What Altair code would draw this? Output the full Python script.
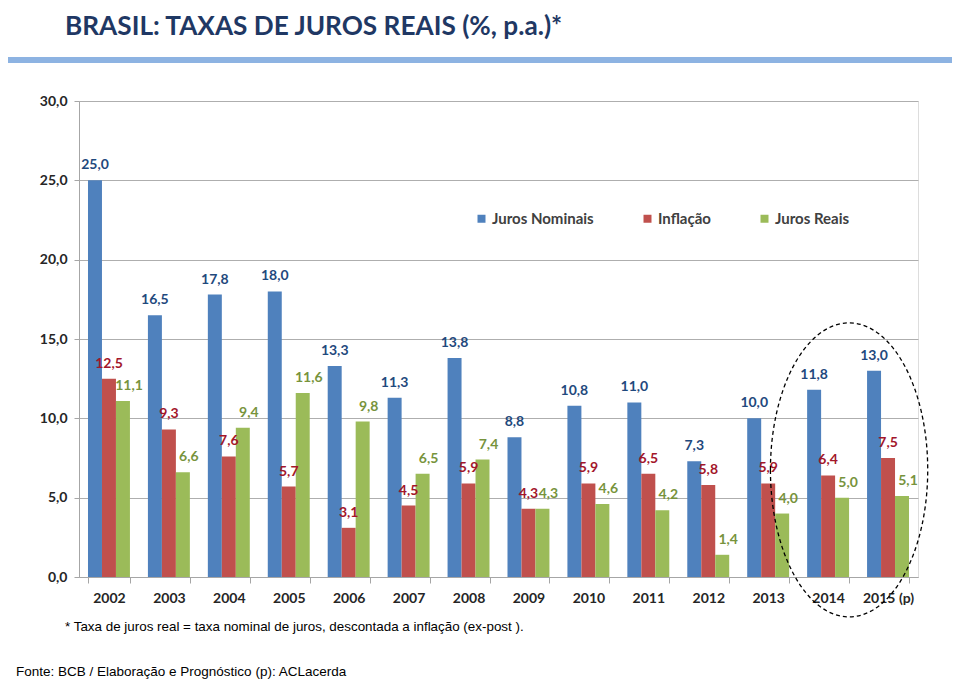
import altair as alt
import pandas as pd

anos = ["2002", "2003", "2004", "2005", "2006", "2007", "2008", "2009",
        "2010", "2011", "2012", "2013", "2014", "2015 (p)"]
juros_nominais = [25.0, 16.5, 17.8, 18.0, 13.3, 11.3, 13.8, 8.8, 10.8, 11.0, 7.3, 10.0, 11.8, 13.0]
inflacao = [12.5, 9.3, 7.6, 5.7, 3.1, 4.5, 5.9, 4.3, 5.9, 6.5, 5.8, 5.9, 6.4, 7.5]
juros_reais = [11.1, 6.6, 9.4, 11.6, 9.8, 6.5, 7.4, 4.3, 4.6, 4.2, 1.4, 4.0, 5.0, 5.1]
series = ["Juros Nominais", "Inflação", "Juros Reais"]
cores = ["#4F81BD", "#C0504D", "#9BBB59"]
cores_rotulos = ["#1F497D", "#A3162A", "#77933C"]

titulo = "BRASIL: TAXAS DE JUROS REAIS (%, p.a.)*"
nota = "* Taxa de juros real = taxa nominal de juros, descontada a inflação (ex-post )."
fonte = "Fonte: BCB / Elaboração e Prognóstico (p): ACLacerda"

rows = []
for s, vals in zip(series, [juros_nominais, inflacao, juros_reais]):
    for a, v in zip(anos, vals):
        rows.append({"ano": a, "serie": s, "valor": v})
df = pd.DataFrame(rows)

FONT = "Lato"
W, H = 839, 476

x_enc = alt.X("ano:N", sort=anos, title=None,
              scale=alt.Scale(paddingInner=0.3, paddingOuter=0.15),
              axis=alt.Axis(labelFont=FONT, labelFontSize=14, labelFontWeight="bold",
                            labelColor="#262626", labelAngle=0, labelPadding=8,
                            domainColor="#A6A6A6", tickColor="#A6A6A6", tickSize=6,
                            tickBand="extent", grid=False))
y_enc = alt.Y("valor:Q", title=None,
              scale=alt.Scale(domain=[0, 30], nice=False),
              axis=alt.Axis(values=[0, 5, 10, 15, 20, 25, 30],
                            labelExpr="replace(format(datum.value, '.1f'), '.', ',')",
                            labelFont=FONT, labelFontSize=14, labelFontWeight="bold",
                            labelColor="#262626", labelPadding=7,
                            domainColor="#A6A6A6", tickColor="#A6A6A6", tickSize=5,
                            grid=True, gridColor="#AEAEAE", gridWidth=1))

base = alt.Chart(df)

bars = base.mark_bar().encode(
    x=x_enc,
    y=y_enc,
    xOffset=alt.XOffset("serie:N", sort=series, scale=alt.Scale(paddingInner=0, paddingOuter=0)),
    color=alt.Color("serie:N", sort=series, scale=alt.Scale(domain=series, range=cores),
                    legend=alt.Legend(title=None, orient="none", legendX=395, legendY=110,
                                      direction="horizontal", symbolType="square",
                                      symbolSize=64, symbolStrokeWidth=0,
                                      labelFont=FONT, labelFontSize=15, labelFontWeight="bold",
                                      labelColor="#404040", columnPadding=46, labelOffset=3)),
)

label_layers = []
dxs = [0, 0, 6]
for s, c, dx in zip(series, cores_rotulos, dxs):
    t = base.transform_filter(alt.datum.serie == s).transform_calculate(
        rotulo="replace(format(datum.valor, '.1f'), '.', ',')"
    ).mark_text(font=FONT, fontSize=14, fontWeight="bold", color=c,
                baseline="middle", dy=-15, dx=dx).encode(
        x=alt.X("ano:N", sort=anos),
        y=alt.Y("valor:Q"),
        xOffset=alt.XOffset("serie:N", sort=series),
        text="rotulo:N",
    )
    label_layers.append(t)

anot = pd.DataFrame({"ano": ["2014"], "valor": [6.75]})
elipse = alt.Chart(anot).mark_point(
    shape="M -0.535 0 A 0.535 1 0 1 1 0.535 0 A 0.535 1 0 1 1 -0.535 0 Z",
    size=86436, filled=False, stroke="#000000", strokeWidth=1.3,
    strokeDash=[4, 3], opacity=1, dx=12,
).encode(
    x=alt.X("ano:N", sort=anos, bandPosition=1),
    y=alt.Y("valor:Q"),
)

faixa = alt.Chart(pd.DataFrame({"k": [0]})).mark_rect(color="#8DB3E2").encode(
    x=alt.value(-71), x2=alt.value(W + 40), y=alt.value(-44), y2=alt.value(-38)
)

def texto(txt, x, y, size, weight, color, font):
    return alt.Chart(pd.DataFrame({"t": [txt]})).mark_text(
        align="left", baseline="alphabetic", fontSize=size, fontWeight=weight,
        color=color, font=font
    ).encode(x=alt.value(x), y=alt.value(y), text="t:N")

t_titulo = texto(titulo, -14, -66, 26.2, "bold", "#1F3864", FONT)
t_nota = texto(nota, -14, 530, 13.4, "normal", "#000000", "Liberation Sans")
t_fonte = texto(fonte, -63, 575, 13.5, "normal", "#000000", "Liberation Sans")

chart = alt.layer(bars, *label_layers, elipse, faixa, t_titulo, t_nota, t_fonte).properties(
    width=W, height=H,
    autosize=alt.AutoSizeParams(type="none"),
    padding={"left": 71, "top": 93, "right": 34, "bottom": 102},
).configure_view(stroke=None).configure(background="white")

chart.save("out.html", embed_options={"renderer": "svg", "actions": False})
